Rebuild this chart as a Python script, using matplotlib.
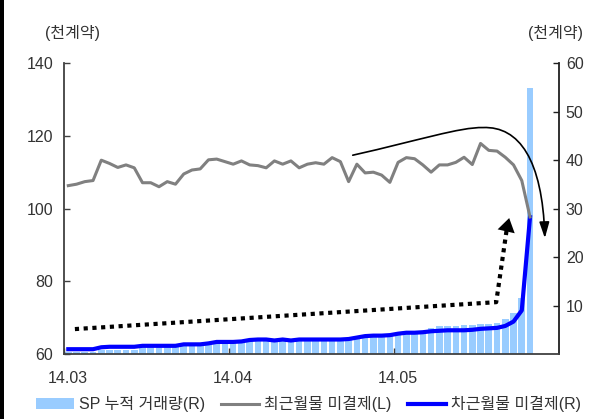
import matplotlib
matplotlib.use("Agg")
import matplotlib.pyplot as plt
from matplotlib.path import Path
from matplotlib.patches import FancyArrowPatch, Rectangle
import numpy as np

plt.rcParams['font.family'] = ['Liberation Sans', 'Noto Sans CJK KR']

# trading days per month and month labels
month_labels = ['14.03', '14.04', '14.05']
month_days = [20, 20, 17]

# nearest-month open interest (thousand contracts, left axis)
near_oi = [106.3, 106.7, 107.4, 107.7, 113.3, 112.4, 111.3, 112.0, 111.2, 107.1,
           107.1, 106.0, 107.4, 106.7, 109.5, 110.6, 110.9, 113.4, 113.6, 112.9,
           112.2, 113.1, 112.0, 111.8, 111.2, 113.1, 112.2, 113.1, 111.2, 112.2,
           112.6, 112.2, 114.0, 112.9, 107.4, 112.2, 109.8, 110.0, 109.2, 107.2,
           112.7, 114.0, 113.7, 112.0, 110.0, 112.0, 112.0, 112.7, 114.1, 112.1,
           117.9, 116.0, 115.8, 114.1, 112.0, 107.7, 97.7]

# next-month open interest (thousand contracts, right axis)
next_oi = [1.0, 1.0, 1.0, 1.0, 1.4, 1.5, 1.5, 1.5, 1.5, 1.7,
           1.7, 1.7, 1.7, 1.7, 2.0, 2.0, 2.0, 2.2, 2.5, 2.5,
           2.5, 2.6, 2.9, 3.0, 3.0, 2.8, 3.0, 2.8, 3.0, 3.0,
           3.0, 3.0, 3.0, 3.0, 3.1, 3.4, 3.7, 3.8, 3.8, 3.9,
           4.2, 4.4, 4.4, 4.5, 4.7, 4.8, 4.9, 4.9, 4.9, 5.0,
           5.2, 5.3, 5.4, 5.8, 6.7, 9.0, 28.2]

# cumulative spread trading volume (thousand contracts, right axis)
sp_volume = [0.5, 0.5, 0.5, 0.5, 0.8, 0.8, 0.8, 0.8, 0.8, 1.4,
             1.4, 1.4, 1.4, 1.4, 1.8, 1.8, 1.8, 1.9, 2.2, 2.2,
             2.2, 2.3, 2.7, 2.8, 2.8, 2.6, 2.8, 2.6, 2.8, 2.8,
             2.8, 2.8, 2.8, 2.8, 2.9, 3.2, 3.5, 3.6, 3.6, 3.7,
             4.0, 4.7, 4.7, 4.7, 5.3, 5.8, 5.8, 5.8, 6.0, 6.0,
             6.2, 6.2, 6.5, 7.2, 8.5, 11.5, 54.8]

x = np.arange(len(near_oi))
month_starts = np.concatenate([[0], np.cumsum(month_days)])[:-1]
month_edges = month_starts - 0.5

fig = plt.figure(figsize=(6.13, 4.19), dpi=100)
ax = fig.add_axes([0.1047, 0.155, 0.807, 0.6945])
ax2 = ax.twinx()
ax.set_zorder(ax2.get_zorder() + 1)
ax.patch.set_visible(False)

bar_color = '#99CCFF'
bars = ax2.bar(x, sp_volume, width=0.8, color=bar_color, zorder=1)
blue_line, = ax2.plot(x, next_oi, color='#0000FF', lw=3.0, zorder=3,
                      solid_joinstyle='round')
gray_line, = ax.plot(x, near_oi, color='#808080', lw=2.2, zorder=3,
                     solid_joinstyle='round')

ax.set_xlim(-0.5, 59.5)
ax.set_ylim(60, 140)
ax2.set_ylim(0, 60)
ax.set_yticks([60, 80, 100, 120, 140])
ax2.set_yticks([10, 20, 30, 40, 50, 60])

# tick marks on month boundaries, labels on the first trading day
ax.set_xticks(month_edges)
ax.set_xticklabels([])
ax.set_xticks(month_starts, minor=True)
ax.set_xticklabels(month_labels, minor=True)

tick_color = '#333333'
for a in (ax, ax2):
    a.spines['top'].set_visible(False)
ax.spines['left'].set_color('#404040')
ax.spines['left'].set_linewidth(1.3)
ax.spines['bottom'].set_color('#404040')
ax.spines['bottom'].set_linewidth(1.3)
ax.spines['right'].set_visible(False)
ax2.spines['left'].set_visible(False)
ax2.spines['bottom'].set_visible(False)
ax2.spines['right'].set_color('#202020')
ax2.spines['right'].set_linewidth(1.3)

ax.tick_params(axis='y', direction='in', length=4, width=1, colors='#404040',
               labelcolor=tick_color, labelsize=11.5, pad=8)
ax.tick_params(axis='x', which='major', direction='in', length=4, width=1,
               colors='#404040')
ax.tick_params(axis='x', which='minor', length=0, labelcolor=tick_color,
               labelsize=11.5, pad=12)
ax2.tick_params(axis='y', direction='in', length=4, width=1, colors='#202020',
                labelcolor=tick_color, labelsize=11.5, pad=5)

# unit labels above each axis
fig.text(0.119, 0.921, '(천계약)', ha='center', va='center', fontsize=11.5,
         color=tick_color)
fig.text(0.907, 0.921, '(천계약)', ha='center', va='center', fontsize=11.5,
         color=tick_color)

# dotted trend arrow along the next-month build-up
dot_x = [0.8, 51.9, 53.2]
dot_y = [5.15, 10.7, 26.0]
ax2.plot(dot_x, dot_y, color='black', lw=3.0, linestyle=(0, (1, 1.1)),
         dash_capstyle='butt', zorder=4)
ax2.annotate('', xy=(53.55, 28.6), xytext=(53.2, 26.0),
             arrowprops=dict(arrowstyle='-|>,head_length=0.7,head_width=0.45',
                             color='black', lw=0, mutation_scale=14),
             zorder=5)

# curved arrow over the roll-off of the nearest month
verts = [(34.5, 41.0), (42.6, 44.1), (47.5, 46.8), (50.3, 46.7),
         (54.7, 47.0), (57.5, 40.0), (57.8, 23.9)]
codes = [Path.MOVETO, Path.CURVE4, Path.CURVE4, Path.CURVE4,
         Path.CURVE4, Path.CURVE4, Path.CURVE4]
curve = FancyArrowPatch(path=Path(verts, codes),
                        arrowstyle='-|>,head_length=0.8,head_width=0.25',
                        mutation_scale=12, color='black', lw=1.2,
                        transform=ax2.transData, zorder=5)
ax2.add_patch(curve)

# legend
leg = fig.legend(handles=[bars, gray_line, blue_line],
                 labels=['SP 누적 거래량(R)', '최근월물 미결제(L)', '차근월물 미결제(R)'],
                 loc='center', bbox_to_anchor=(0.503, 0.035), ncol=3,
                 frameon=False, fontsize=11.5, handlelength=2.4,
                 handletextpad=0.3, columnspacing=1.0, handleheight=0.7)
for t in leg.get_texts():
    t.set_color(tick_color)

# black rule along the left edge of the figure
fig.patches.append(Rectangle((0, 0), 4 / 613, 1, transform=fig.transFigure,
                             facecolor='black', edgecolor='none', zorder=10))

fig.savefig('out.png', dpi=100)
